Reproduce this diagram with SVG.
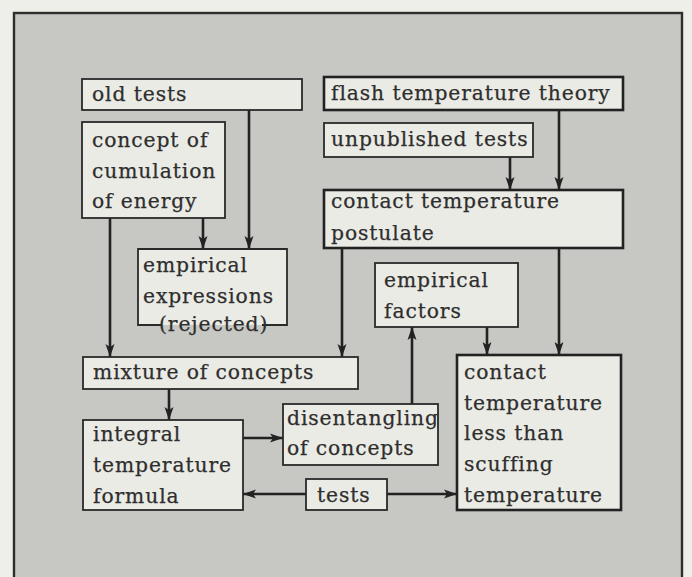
<svg xmlns="http://www.w3.org/2000/svg" width="692" height="577" viewBox="0 0 692 577">
<style>
.bx{fill:#ebebe5;stroke:#2a2a2a;stroke-width:1.8}
.bk{fill:#ebebe5;stroke:#222;stroke-width:2.6}
.t{font-family:"DejaVu Serif",serif;font-size:20.3px;fill:#2e2e2e;letter-spacing:0.9px;stroke:#2e2e2e;stroke-width:0.25}
.c{stroke:#222;stroke-width:2.6;fill:none;marker-end:url(#ah)}
</style>
<defs>
<marker id="ah" markerUnits="userSpaceOnUse" markerWidth="14" markerHeight="10" refX="13" refY="5" orient="auto">
<path d="M0,0.5 L13,5 L0,9.5 L3,5 z" fill="#222"/>
</marker>
</defs>
<rect x="0" y="0" width="692" height="577" fill="#efefe9"/>
<rect x="14" y="13" width="668" height="600" fill="#c7c7c3" stroke="#2e2e2e" stroke-width="2.4"/>
<g id="connectors">
<line class="c" x1="249" y1="110" x2="249" y2="249"/>
<line class="c" x1="203" y1="218" x2="203" y2="249"/>
<line class="c" x1="110" y1="218" x2="110" y2="357"/>
<line class="c" x1="559" y1="110" x2="559" y2="190"/>
<line class="c" x1="510" y1="157" x2="510" y2="190"/>
<line class="c" x1="342" y1="248" x2="342" y2="357"/>
<line class="c" x1="559" y1="248" x2="559" y2="355"/>
<line class="c" x1="169" y1="389" x2="169" y2="420"/>
<line class="c" x1="243" y1="438" x2="283" y2="438"/>
<line class="c" x1="412" y1="404" x2="412" y2="327"/>
<line class="c" x1="487" y1="327" x2="487" y2="355"/>
<line class="c" x1="306" y1="494" x2="243" y2="494"/>
<line class="c" x1="387" y1="494" x2="457" y2="494"/>
</g>
<g id="old-tests">
<rect class="bx" x="82" y="79" width="220" height="31"/>
<text class="t" x="92" y="101">old tests</text>
</g>
<g id="concept-cumulation">
<rect class="bx" x="82" y="122" width="143" height="96"/>
<text class="t" x="92" y="147">concept of</text>
<text class="t" x="92" y="178">cumulation</text>
<text class="t" x="92" y="208">of energy</text>
</g>
<g id="flash-temperature-theory">
<rect class="bk" x="324" y="77" width="299" height="33"/>
<text class="t" x="331" y="100">flash temperature theory</text>
</g>
<g id="unpublished-tests">
<rect class="bx" x="324" y="123" width="209" height="34"/>
<text class="t" x="331" y="146">unpublished tests</text>
</g>
<g id="contact-temperature-postulate">
<rect class="bk" x="324" y="190" width="299" height="58"/>
<text class="t" x="331" y="208">contact temperature</text>
<text class="t" x="331" y="240">postulate</text>
</g>
<g id="empirical-expressions">
<path d="M162,325 L138,325 L138,249 L287,249 L287,325 L262,325" fill="#ebebe5" stroke="#2a2a2a" stroke-width="1.8"/>
<text class="t" x="143" y="272">empirical</text>
<text class="t" x="143" y="303">expressions</text>
<text class="t" x="159" y="331">(rejected)</text>
</g>
<g id="empirical-factors">
<rect class="bx" x="375" y="263" width="143" height="64"/>
<text class="t" x="384" y="287">empirical</text>
<text class="t" x="384" y="318">factors</text>
</g>
<g id="mixture-of-concepts">
<rect class="bx" x="83" y="357" width="275" height="32"/>
<text class="t" x="93" y="379">mixture of concepts</text>
</g>
<g id="integral-temperature-formula">
<rect class="bx" x="83" y="420" width="160" height="90"/>
<text class="t" x="93" y="441">integral</text>
<text class="t" x="93" y="472">temperature</text>
<text class="t" x="93" y="503">formula</text>
</g>
<g id="disentangling-of-concepts">
<rect class="bx" x="283" y="404" width="155" height="61"/>
<text class="t" x="287" y="425">disentangling</text>
<text class="t" x="287" y="455">of concepts</text>
</g>
<g id="tests">
<rect class="bx" x="306" y="479" width="81" height="31"/>
<text class="t" x="317" y="502">tests</text>
</g>
<g id="contact-temperature-less">
<rect class="bk" x="457" y="355" width="164" height="155" stroke-width="3"/>
<text class="t" x="464" y="379">contact</text>
<text class="t" x="464" y="410">temperature</text>
<text class="t" x="464" y="440">less than</text>
<text class="t" x="464" y="471">scuffing</text>
<text class="t" x="464" y="502">temperature</text>
</g>
</svg>
